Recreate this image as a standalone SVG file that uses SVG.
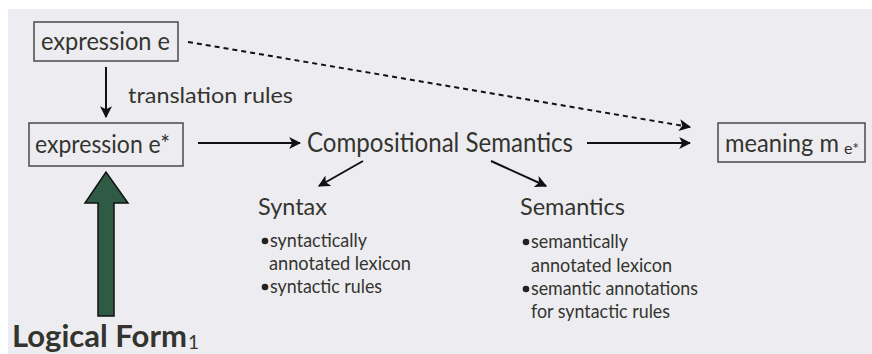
<svg xmlns="http://www.w3.org/2000/svg" width="872" height="354" viewBox="0 0 872 354">
<defs>
<style>
text{font-family:Lato,"Open Sans","Liberation Sans",sans-serif;fill:#34342f}
.box{fill:none;stroke:#4a4a4a;stroke-width:1.5}
.big{font-size:25px}
.mid{font-size:22px}
.sm{font-size:19px}
.ln{stroke:#111;stroke-width:2;fill:none}
.dot{fill:#222}
</style>
<marker id="ah" viewBox="0 0 10 10" refX="9" refY="5" markerWidth="6" markerHeight="6" markerUnits="strokeWidth" orient="auto"><path d="M0,0 L10,5 L0,10 L2.5,5 Z" fill="#111"/></marker>
</defs>
<rect x="0" y="0" width="872" height="354" fill="#ffffff"/>
<rect x="8" y="9" width="864" height="345" fill="#ededf1"/>
<g id="connectors">
<line class="ln" x1="106" y1="67" x2="106" y2="117" marker-end="url(#ah)"/>
<line class="ln" x1="198" y1="143" x2="300" y2="143" marker-end="url(#ah)"/>
<line class="ln" x1="587" y1="143" x2="690" y2="143" marker-end="url(#ah)"/>
<line class="ln" x1="188" y1="42" x2="690" y2="127" stroke-dasharray="5,4" marker-end="url(#ah)"/>
<line class="ln" x1="363" y1="161" x2="319" y2="186" marker-end="url(#ah)"/>
<line class="ln" x1="491" y1="161" x2="546" y2="186" marker-end="url(#ah)"/>
<text class="mid" x="128" y="103" textLength="165" lengthAdjust="spacingAndGlyphs">translation rules</text>
</g>
<g id="expr-e">
<rect class="box" x="34" y="22" width="144" height="39"/>
<text class="big" x="41" y="50" textLength="129" lengthAdjust="spacingAndGlyphs">expression e</text>
</g>
<g id="expr-estar">
<rect class="box" x="29" y="123" width="154" height="43"/>
<text class="big" x="35" y="153" textLength="135" lengthAdjust="spacingAndGlyphs">expression e*</text>
</g>
<g id="comp-sem">
<text x="307" y="152" font-size="27" textLength="266" lengthAdjust="spacingAndGlyphs">Compositional Semantics</text>
</g>
<g id="meaning">
<rect class="box" x="718" y="123" width="147" height="39"/>
<text class="big" x="725" y="152" textLength="114" lengthAdjust="spacingAndGlyphs">meaning m</text>
<text x="844" y="154" font-size="15" textLength="15" lengthAdjust="spacingAndGlyphs">e*</text>
</g>
<g id="syntax">
<text x="258" y="215" font-size="24" textLength="69" lengthAdjust="spacingAndGlyphs">Syntax</text>
<circle class="dot" cx="265" cy="241" r="3.3"/>
<text class="sm" x="270" y="247" textLength="97" lengthAdjust="spacingAndGlyphs">syntactically</text>
<text class="sm" x="269" y="270" textLength="142" lengthAdjust="spacingAndGlyphs">annotated lexicon</text>
<circle class="dot" cx="265" cy="287" r="3.3"/>
<text class="sm" x="270" y="293" textLength="112" lengthAdjust="spacingAndGlyphs">syntactic rules</text>
</g>
<g id="semantics">
<text x="520" y="215" font-size="24" textLength="105" lengthAdjust="spacingAndGlyphs">Semantics</text>
<circle class="dot" cx="526" cy="242" r="3.3"/>
<text class="sm" x="531" y="248" textLength="97" lengthAdjust="spacingAndGlyphs">semantically</text>
<text class="sm" x="531" y="272" textLength="141" lengthAdjust="spacingAndGlyphs">annotated lexicon</text>
<circle class="dot" cx="526" cy="289" r="3.3"/>
<text class="sm" x="531" y="295" textLength="167" lengthAdjust="spacingAndGlyphs">semantic annotations</text>
<text class="sm" x="531" y="318" textLength="139" lengthAdjust="spacingAndGlyphs">for syntactic rules</text>
</g>
<g id="logical-form">
<path d="M98,316 L98,203 L85,203 L106,172 L128,203 L114,203 L114,316 Z" fill="#2f5a43" stroke="#111" stroke-width="1.5"/>
<text x="12" y="347" font-size="30" font-weight="bold" fill="#2b2b24" textLength="175" lengthAdjust="spacingAndGlyphs">Logical Form</text>
<text x="188" y="349" font-size="19" fill="#2b2b24">1</text>
</g>
</svg>
